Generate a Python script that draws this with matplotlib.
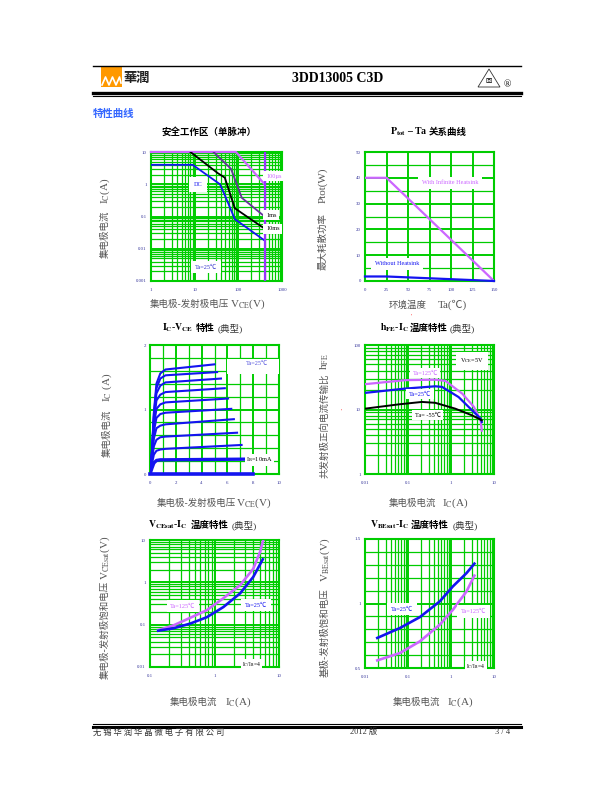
import numpy as np
import matplotlib
matplotlib.use('Agg')
import matplotlib.pyplot as plt
from matplotlib.ticker import LogLocator, NullFormatter, MultipleLocator
from matplotlib.lines import Line2D
from matplotlib.patches import Rectangle, Polygon

plt.rcParams['font.family'] = ['Liberation Serif', 'Noto Sans CJK SC']
plt.rcParams['mathtext.fontset'] = 'stix'

# ---- data ----
# safe operating area
soa_dc_v = [1, 9, 38, 49, 83, 400]
soa_dc_i = [4, 4, 1.0, 0.46, 0.083, 0.018]
soa_10ms_v = [8, 34, 49, 83, 400]
soa_10ms_i = [10, 2.2, 1.6, 0.18, 0.042]
soa_1ms_v = [27, 68, 120, 400]
soa_1ms_i = [10, 3.0, 0.38, 0.1]
soa_100us_v = [1, 88, 400]
soa_100us_i = [10, 10, 1.0]
soa_vceo = 400
soa_xticks = [1, 10, 100, 1000]
soa_xlabels = ['1', '10', '100', '1000']
soa_yticks = [0.001, 0.01, 0.1, 1, 10]
soa_ylabels = ['0.001', '0.01', '0.1', '1', '10']

# Ptot - Ta
ptot_ta = [0, 25, 150]
ptot_inf = [40, 40, 0]
ptot_none = [1.75, 1.75, 0]

# Ic - Vce
icv_v = [0, 0.15, 0.3, 0.5, 0.8, 1.2]
icv_end_v = [7.3, 7.1, 6.75, 6.5, 6.3, 6.05, 5.8, 5.5, 5.2, 5.0]
icv_ic = [
    [0, 0.09, 0.17, 0.21, 0.22, 0.22, 0.23],
    [0, 0.16, 0.30, 0.36, 0.38, 0.39, 0.45],
    [0, 0.21, 0.43, 0.53, 0.57, 0.58, 0.64],
    [0, 0.25, 0.55, 0.71, 0.75, 0.77, 0.85],
    [0, 0.28, 0.66, 0.87, 0.93, 0.95, 1.01],
    [0, 0.30, 0.75, 1.01, 1.08, 1.11, 1.17],
    [0, 0.32, 0.82, 1.14, 1.23, 1.27, 1.33],
    [0, 0.33, 0.88, 1.25, 1.37, 1.42, 1.48],
    [0, 0.34, 0.92, 1.33, 1.48, 1.53, 1.58],
    [0, 0.35, 0.95, 1.40, 1.56, 1.62, 1.70],
]
icv_zero_v = [0, 8]
icv_zero_i = [0, 0]

# hFE - Ic
hfe_125_ic = [0.01, 0.086, 0.43, 0.74, 1.83, 3.4, 4.9, 5.2]
hfe_125 = [24.7, 28.5, 29, 27.8, 17.6, 11, 6.7, 4.7]
hfe_25_ic = [0.01, 0.086, 0.43, 0.62, 1.5, 3.1, 4.9, 5.2]
hfe_25 = [18.1, 21.1, 22.9, 22.4, 15.6, 9.7, 7.2, 6.4]
hfe_m55_ic = [0.01, 0.06, 0.21, 0.43, 1.26, 3.1, 5.2]
hfe_m55 = [10.3, 12.0, 13.1, 12.7, 10.3, 8.1, 6.8]

# Vce(sat) - Ic
vces_125_ic = [0.134, 0.23, 0.42, 0.76, 1.37, 2.5, 4.0, 5.1, 5.7]
vces_125 = [0.074, 0.096, 0.145, 0.22, 0.42, 0.86, 2.1, 5.3, 10]
vces_25_ic = [0.134, 0.23, 0.42, 0.76, 1.37, 2.5, 4.0, 5.6]
vces_25 = [0.072, 0.082, 0.106, 0.15, 0.26, 0.55, 1.35, 3.5]

# Vbe(sat) - Ic
vbes_ic = [0.0193, 0.065, 0.19, 0.55, 1.11, 2.3, 3.5]
vbes_25 = [0.733, 0.81, 0.895, 1.017, 1.133, 1.236, 1.309]
vbes_125 = [0.559, 0.616, 0.707, 0.836, 0.952, 1.094, 1.216]

W, H = 612, 792
GREEN = '#00cc00'
BLUE = '#1414f0'
VIOLET = '#cc66ff'
DPURPLE = '#663399'
TICKC = '#333399'
GRAY = '#555555'
CJK = ['Noto Sans CJK SC', 'DejaVu Sans']
SER = ['Liberation Serif', 'Noto Sans CJK SC']
TS = 6.8   # title cjk size

fig = plt.figure(figsize=(W / 100, H / 100), dpi=100)


def fx(x):
    return x / W


def fy(y):
    return 1 - y / H


def add_ax(l, t, r, b):
    return fig.add_axes([l / W, 1 - b / H, (r - l) / W, (b - t) / H])


def style(ax, logx=False, logy=False):
    for s in ax.spines.values():
        s.set_color(GREEN)
        s.set_linewidth(1.5)
    ax.tick_params(which='both', length=0, labelsize=3.5, labelcolor=TICKC)
    ax.tick_params(axis='x', pad=5)
    ax.tick_params(axis='y', pad=3)
    if logx:
        ax.xaxis.set_minor_locator(LogLocator(base=10, subs=(2, 3, 4, 5, 6, 7, 8, 9), numticks=50))
        ax.xaxis.set_minor_formatter(NullFormatter())
    if logy:
        ax.yaxis.set_minor_locator(LogLocator(base=10, subs=(2, 3, 4, 5, 6, 7, 8, 9), numticks=50))
        ax.yaxis.set_minor_formatter(NullFormatter())
    ax.grid(True, which='major', color=GREEN, lw=1.4)
    ax.grid(True, which='minor', color=GREEN, lw=0.9)
    ax.set_axisbelow(True)


def hline(y, x0, x1, lw):
    fig.add_artist(Line2D([fx(x0), fx(x1)], [fy(y), fy(y)], color='black', lw=lw))


def two_part(x, y, cjk, latin, xc, yc, rot=0, color=GRAY):
    # cjk part at (x, y), latin part at (xc, yc)
    fig.text(fx(x), fy(y), cjk, family=CJK, fontsize=6.8, color=color,
             rotation=rot, ha='center', va='center')
    fig.text(fx(xc), fy(yc), latin, family=SER, fontsize=8, color=color,
             rotation=rot, ha='center', va='center')


def title3(xa, latin, xb, cjk, xc=None):
    fig_y = None
    return fig_y


box = dict(boxstyle='square,pad=0.4', fc='white', ec='none')

# ---- header / footer ----
hline(66, 93, 521, 1.0)
hline(92.5, 93, 521, 2.4)
hline(95.5, 93, 521, 0.8)
hline(724, 93, 521, 0.8)
hline(726.5, 93, 521, 2.2)
fig.add_artist(Rectangle((fx(101), fy(87)), 21 / W, 20 / H, transform=fig.transFigure,
                         fc='#ff9900', ec='none'))
fig.add_artist(Line2D([fx(x) for x in [102, 105.5, 109, 112.5, 116, 119.5, 121]],
                      [fy(y) for y in [85, 77, 85, 77, 85, 77, 83]],
                      color='white', lw=1.2, transform=fig.transFigure))
fig.text(fx(123), fy(78), '華潤', family=CJK, fontsize=9.5, weight='bold',
         color='#222222', va='center')
fig.text(fx(338), fy(79), '3DD13005 C3D', family=SER, fontsize=10, weight='bold',
         ha='center', va='center')
fig.add_artist(Polygon([(fx(478), fy(87)), (fx(489), fy(69)), (fx(500), fy(87))],
                       closed=True, fill=False, ec='#333333', lw=0.6,
                       transform=fig.transFigure))
fig.text(fx(489), fy(81), '回', family=CJK, fontsize=4.5, ha='center', va='center')
fig.text(fx(507), fy(85), '®', family=SER, fontsize=7, ha='center', va='center')
fig.text(fx(93), fy(732), '无 锡 华 润 华 晶 微 电 子 有 限 公 司', family=CJK,
         fontsize=6, color='#333333', va='center')
fig.text(fx(364), fy(732), '2012 版', family=SER, fontsize=6, color='#333333',
         ha='center', va='center')
fig.text(fx(503), fy(732), '3 / 4', family=SER, fontsize=6, color='#333333',
         ha='center', va='center')
fig.text(fx(93), fy(114), '特性曲线', family=CJK, fontsize=7.5, weight='bold',
         color='#3366ff', va='center')
fig.text(fx(411), fy(316), "'", fontsize=4, color='red', ha='center', va='center')
fig.text(fx(341), fy(411), "'", fontsize=4, color='red', ha='center', va='center')

# ---- 1: safe operating area ----
ax = add_ax(151, 152, 282, 281)
ax.set_xscale('log')
ax.set_yscale('log')
ax.set_xlim(1, 1000)
ax.set_ylim(0.001, 10)
style(ax, True, True)
ax.set_xticks(soa_xticks)
ax.set_xticklabels(soa_xlabels)
ax.set_yticks(soa_yticks)
ax.set_yticklabels(soa_ylabels)
ax.plot(soa_100us_v, soa_100us_i, color=VIOLET, lw=1.6, clip_on=False, zorder=5)
ax.plot(soa_1ms_v, soa_1ms_i, color=DPURPLE, lw=1.3, zorder=5)
ax.plot(soa_10ms_v, soa_10ms_i, color='black', lw=1.3, zorder=5)
ax.plot(soa_dc_v, soa_dc_i, color=BLUE, lw=1.3, zorder=5)
ax.axvline(soa_vceo, color='#9933ff', lw=1.6, zorder=6)
ax.text(430, 1.8, '100µs', fontsize=4.5, color=VIOLET, va='center', bbox=box, zorder=7)
ax.text(430, 0.11, '1ms', fontsize=4.5, color='black', va='center', bbox=box, zorder=7)
ax.text(430, 0.041, '10ms', fontsize=4.5, color='black', va='center', bbox=box, zorder=7)
ax.text(11.9, 1.0, 'DC', fontsize=4.5, color=BLUE, ha='center', va='center',
        bbox=dict(boxstyle='square,pad=0.8', fc='white', ec='none'), zorder=7)
ax.text(18, 0.0027, 'Ta=25℃', fontsize=4.5, color='#3333cc', ha='center', va='center',
        bbox=dict(boxstyle='square,pad=0.6', fc='white', ec='none'), zorder=7)
fig.text(fx(209), fy(132), '安全工作区（单脉冲）', family=CJK, fontsize=TS,
         weight='bold', ha='center', va='center')
two_part(189, 304, '集电极-发射极电压', r'V$_{\rm CE}$(V)', 248, 304)
two_part(105, 234, '集电极电流', r'I$_{\rm C}$(A)', 105, 191, rot=90)

# ---- 2: Ptot - Ta ----
ax = add_ax(365, 152, 494, 281)
ax.set_xlim(0, 150)
ax.set_ylim(0, 50)
style(ax)
ax.xaxis.set_major_locator(MultipleLocator(25))
ax.yaxis.set_major_locator(MultipleLocator(10))
ax.yaxis.set_minor_locator(MultipleLocator(5))
ax.plot(ptot_ta, ptot_inf, color=VIOLET, lw=1.6, zorder=5)
ax.plot(ptot_ta, ptot_none, color=BLUE, lw=1.6, zorder=5, clip_on=False)
ax.text(99, 38, 'With Infinite Heatsink', fontsize=4.5, color=VIOLET, ha='center',
        va='center', bbox=dict(boxstyle='square,pad=0.6', fc='white', ec='none'), zorder=7)
ax.text(37, 6.6, 'Without Heatsink', fontsize=4.5, color=BLUE, ha='center',
        va='center', bbox=dict(boxstyle='square,pad=0.6', fc='white', ec='none'), zorder=7)
fig.text(fx(409), fy(132), r'$\mathbf{P_{tot}}$ – Ta', family=SER, fontsize=7,
         weight='bold', ha='center', va='center')
fig.text(fx(448), fy(132), '关系曲线', family=CJK, fontsize=TS, weight='bold',
         ha='center', va='center')
two_part(408, 305, '环境温度', 'Ta(℃)', 452, 305)
two_part(323, 242, '最大耗散功率', 'Ptot(W)', 323, 185, rot=90)

# ---- 3: Ic - Vce ----
ax = add_ax(150, 345, 279, 474)
ax.set_xlim(0, 10)
ax.set_ylim(0, 2)
style(ax)
ax.xaxis.set_major_locator(MultipleLocator(2))
ax.xaxis.set_minor_locator(MultipleLocator(1))
ax.yaxis.set_major_locator(MultipleLocator(1))
ax.yaxis.set_minor_locator(MultipleLocator(0.2))
for k, (ev, ic) in enumerate(zip(icv_end_v, icv_ic)):
    ax.plot(icv_v + [ev], ic, color=BLUE, lw=2.4 if k == 0 else 1.5, zorder=5)
ax.plot(icv_zero_v, icv_zero_i, color=BLUE, lw=2.6, zorder=5, clip_on=False)
ax.add_patch(Rectangle((6.0, 1.55), 4.0, 0.24, fc='white', ec='none', zorder=3))
ax.text(8.3, 1.72, 'Ta=25℃', fontsize=4.5, color='#5555dd', ha='center', va='center', zorder=7)
ax.text(7.45, 0.22, r'I$_{\rm B}$=10mA', fontsize=4.5, color='black', va='center',
        bbox=dict(boxstyle='square,pad=0.2', fc='white', ec='none'), zorder=7)
fig.text(fx(178), fy(328), r'$\mathbf{I_{C}}$-$\mathbf{V_{CE}}$', family=SER,
         fontsize=7, ha='center', va='center')
fig.text(fx(205), fy(328), '特性', family=CJK, fontsize=TS, weight='bold',
         ha='center', va='center')
fig.text(fx(230), fy(328), '(典型)', family=SER, fontsize=TS, ha='center', va='center',
         color='#333333')
two_part(196, 503, '集电极-发射极电压', r'V$_{\rm CE}$(V)', 254, 503)
two_part(107, 433, '集电极电流', r'I$_{\rm C}$ (A)', 107, 387, rot=90)

# ---- 4: hFE - Ic ----
ax = add_ax(365, 345, 494, 474)
ax.set_xscale('log')
ax.set_yscale('log')
ax.set_xlim(0.01, 10)
ax.set_ylim(1, 100)
style(ax, True, True)
ax.set_xticks([0.01, 0.1, 1, 10])
ax.set_xticklabels(['0.01', '0.1', '1', '10'])
ax.set_yticks([1, 10, 100])
ax.set_yticklabels(['1', '10', '100'])
ax.plot(hfe_125_ic, hfe_125, color=VIOLET, lw=1.6, zorder=5)
ax.plot(hfe_25_ic, hfe_25, color=BLUE, lw=1.6, zorder=5)
ax.plot(hfe_m55_ic, hfe_m55, color='black', lw=1.4, zorder=5)
ax.text(3.07, 56.5, r'V$_{\rm CE}$=5V', fontsize=4.5, ha='center', va='center',
        bbox=dict(boxstyle='square,pad=0.7', fc='white', ec='none'), zorder=7)
ax.text(0.25, 36.8, 'Ta=125℃', fontsize=4.5, color=VIOLET, ha='center', va='center',
        bbox=box, zorder=7)
ax.text(0.19, 17.4, 'Ta=25℃', fontsize=4.5, color=BLUE, ha='center', va='center',
        bbox=box, zorder=7)
ax.text(0.29, 8.2, 'Ta= -55℃', fontsize=4.5, color='black', ha='center', va='center',
        bbox=box, zorder=7)
fig.text(fx(394), fy(328), r'$\mathbf{h_{FE}}$-$\mathbf{I_{C}}$', family=SER,
         fontsize=7, ha='center', va='center')
fig.text(fx(429), fy(328), '温度特性', family=CJK, fontsize=TS, weight='bold',
         ha='center', va='center')
fig.text(fx(462), fy(328), '(典型)', family=SER, fontsize=TS, ha='center', va='center',
         color='#333333')
two_part(412, 503, '集电极电流', r'I$_{\rm C}$(A)', 455, 503)
two_part(325, 426, '共发射极正向电流传输比', r'h$_{\rm FE}$', 325, 362, rot=90)

# ---- 5: Vce(sat) - Ic ----
ax = add_ax(150, 540, 279, 667)
ax.set_xscale('log')
ax.set_yscale('log')
ax.set_xlim(0.1, 10)
ax.set_ylim(0.01, 10)
style(ax, True, True)
ax.set_xticks([0.1, 1, 10])
ax.set_xticklabels(['0.1', '1', '10'])
ax.set_yticks([0.01, 0.1, 1, 10])
ax.set_yticklabels(['0.01', '0.1', '1', '10'])
ax.plot(vces_125_ic, vces_125, color=VIOLET, lw=1.9, zorder=5)
ax.plot(vces_25_ic, vces_25, color=BLUE, lw=1.9, zorder=5)
ax.text(0.325, 0.275, 'Ta=125℃', fontsize=4.5, color=VIOLET, ha='center', va='center',
        bbox=dict(boxstyle='square,pad=0.6', fc='white', ec='none'), zorder=7)
ax.text(4.4, 0.29, 'Ta=25℃', fontsize=4.5, color=BLUE, ha='center', va='center',
        bbox=dict(boxstyle='square,pad=0.6', fc='white', ec='none'), zorder=7)
ax.text(3.8, 0.0115, r'I$_{\rm C}$/I$_{\rm B}$=4', fontsize=4, ha='center', va='center',
        bbox=dict(boxstyle='square,pad=0.2', fc='white', ec='none'), zorder=7)
fig.text(fx(168), fy(525), r'$\mathbf{V_{CEsat}}$-$\mathbf{I_{C}}$', family=SER,
         fontsize=7, ha='center', va='center')
fig.text(fx(210), fy(525), '温度特性', family=CJK, fontsize=TS, weight='bold',
         ha='center', va='center')
fig.text(fx(244), fy(525), '(典型)', family=SER, fontsize=TS, ha='center', va='center',
         color='#333333')
two_part(193, 702, '集电极电流', r'I$_{\rm C}$(A)', 238, 702)
two_part(105, 630, '集电极-发射极饱和电压', r'V$_{\rm CEsat}$(V)', 105, 558, rot=90)

# ---- 6: Vbe(sat) - Ic ----
ax = add_ax(365, 539, 494, 668)
ax.set_xscale('log')
ax.set_xlim(0.01, 10)
ax.set_ylim(0.5, 1.5)
style(ax, True, False)
ax.set_xticks([0.01, 0.1, 1, 10])
ax.set_xticklabels(['0.01', '0.1', '1', '10'])
ax.set_yticks([0.5, 1, 1.5])
ax.set_yticklabels(['0.5', '1', '1.5'])
ax.yaxis.set_minor_locator(MultipleLocator(0.1))
ax.plot(vbes_ic, vbes_25, color=BLUE, lw=1.9, zorder=5)
ax.plot(vbes_ic, vbes_125, color=VIOLET, lw=1.9, zorder=5)
ax.text(0.072, 0.957, 'Ta=25℃', fontsize=4.5, color=BLUE, ha='center', va='center',
        bbox=dict(boxstyle='square,pad=0.6', fc='white', ec='none'), zorder=7)
ax.text(3.4, 0.94, 'Ta=125℃', fontsize=4.5, color=VIOLET, ha='center', va='center',
        bbox=dict(boxstyle='square,pad=0.6', fc='white', ec='none'), zorder=7)
ax.text(3.8, 0.515, r'I$_{\rm C}$/I$_{\rm B}$=4', fontsize=4, ha='center', va='center',
        bbox=dict(boxstyle='square,pad=0.2', fc='white', ec='none'), zorder=7)
fig.text(fx(390), fy(525), r'$\mathbf{V_{BEsat}}$-$\mathbf{I_{C}}$', family=SER,
         fontsize=7, ha='center', va='center')
fig.text(fx(430), fy(525), '温度特性', family=CJK, fontsize=TS, weight='bold',
         ha='center', va='center')
fig.text(fx(465), fy(525), '(典型)', family=SER, fontsize=TS, ha='center', va='center',
         color='#333333')
two_part(416, 702, '集电极电流', r'I$_{\rm C}$(A)', 460, 702)
two_part(325, 633, '基极-发射极饱和电压', r'V$_{\rm BEsat}$(V)', 325, 560, rot=90)

fig.savefig('out.png', dpi=100)
